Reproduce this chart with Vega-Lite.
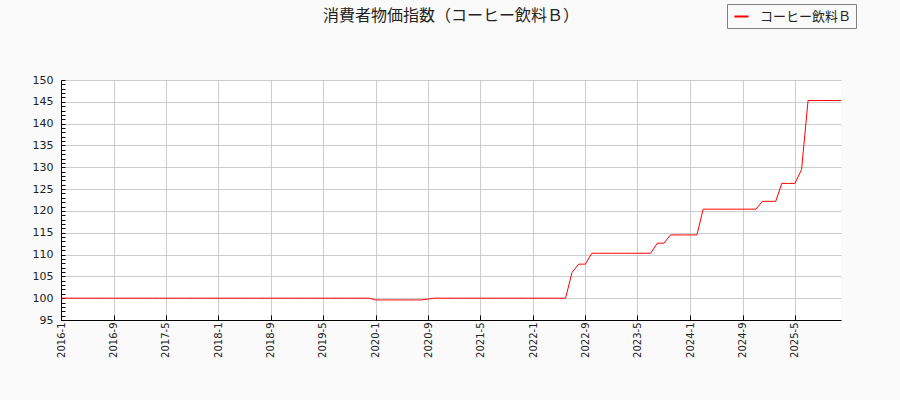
{
  "$schema": "https://vega.github.io/schema/vega-lite/v6.json",
  "width": 780,
  "height": 240,
  "autosize": "none",
  "padding": {"left": 61, "top": 80, "right": 59, "bottom": 80},
  "background": "#fafafa",
  "title": {
    "text": "消費者物価指数（コーヒー飲料Ｂ）",
    "anchor": "middle",
    "frame": "group",
    "font": "Noto Sans CJK JP",
    "fontSize": 16,
    "fontWeight": "normal",
    "color": "#222222",
    "offset": -20
  },
  "config": {
    "view": {"fill": "#ffffff", "stroke": null},
    "axis": {
      "domainColor": "#000000",
      "tickColor": "#000000",
      "gridColor": "#cccccc",
      "labelColor": "#222222",
      "labelFont": "DejaVu Sans",
      "title": null
    }
  },
  "data": {
    "values": [
      {"month": "2016-01-01", "value": 100.0}, {"month": "2016-02-01", "value": 100.0}, {"month": "2016-03-01", "value": 100.0},
      {"month": "2016-04-01", "value": 100.0}, {"month": "2016-05-01", "value": 100.0}, {"month": "2016-06-01", "value": 100.0},
      {"month": "2016-07-01", "value": 100.0}, {"month": "2016-08-01", "value": 100.0}, {"month": "2016-09-01", "value": 100.0},
      {"month": "2016-10-01", "value": 100.0}, {"month": "2016-11-01", "value": 100.0}, {"month": "2016-12-01", "value": 100.0},
      {"month": "2017-01-01", "value": 100.0}, {"month": "2017-02-01", "value": 100.0}, {"month": "2017-03-01", "value": 100.0},
      {"month": "2017-04-01", "value": 100.0}, {"month": "2017-05-01", "value": 100.0}, {"month": "2017-06-01", "value": 100.0},
      {"month": "2017-07-01", "value": 100.0}, {"month": "2017-08-01", "value": 100.0}, {"month": "2017-09-01", "value": 100.0},
      {"month": "2017-10-01", "value": 100.0}, {"month": "2017-11-01", "value": 100.0}, {"month": "2017-12-01", "value": 100.0},
      {"month": "2018-01-01", "value": 100.0}, {"month": "2018-02-01", "value": 100.0}, {"month": "2018-03-01", "value": 100.0},
      {"month": "2018-04-01", "value": 100.0}, {"month": "2018-05-01", "value": 100.0}, {"month": "2018-06-01", "value": 100.0},
      {"month": "2018-07-01", "value": 100.0}, {"month": "2018-08-01", "value": 100.0}, {"month": "2018-09-01", "value": 100.0},
      {"month": "2018-10-01", "value": 100.0}, {"month": "2018-11-01", "value": 100.0}, {"month": "2018-12-01", "value": 100.0},
      {"month": "2019-01-01", "value": 100.0}, {"month": "2019-02-01", "value": 100.0}, {"month": "2019-03-01", "value": 100.0},
      {"month": "2019-04-01", "value": 100.0}, {"month": "2019-05-01", "value": 100.0}, {"month": "2019-06-01", "value": 100.0},
      {"month": "2019-07-01", "value": 100.0}, {"month": "2019-08-01", "value": 100.0}, {"month": "2019-09-01", "value": 100.0},
      {"month": "2019-10-01", "value": 100.0}, {"month": "2019-11-01", "value": 100.0}, {"month": "2019-12-01", "value": 100.0},
      {"month": "2020-01-01", "value": 99.6}, {"month": "2020-02-01", "value": 99.6}, {"month": "2020-03-01", "value": 99.6},
      {"month": "2020-04-01", "value": 99.6}, {"month": "2020-05-01", "value": 99.6}, {"month": "2020-06-01", "value": 99.6},
      {"month": "2020-07-01", "value": 99.6}, {"month": "2020-08-01", "value": 99.6}, {"month": "2020-09-01", "value": 99.8},
      {"month": "2020-10-01", "value": 100.0}, {"month": "2020-11-01", "value": 100.0}, {"month": "2020-12-01", "value": 100.0},
      {"month": "2021-01-01", "value": 100.0}, {"month": "2021-02-01", "value": 100.0}, {"month": "2021-03-01", "value": 100.0},
      {"month": "2021-04-01", "value": 100.0}, {"month": "2021-05-01", "value": 100.0}, {"month": "2021-06-01", "value": 100.0},
      {"month": "2021-07-01", "value": 100.0}, {"month": "2021-08-01", "value": 100.0}, {"month": "2021-09-01", "value": 100.0},
      {"month": "2021-10-01", "value": 100.0}, {"month": "2021-11-01", "value": 100.0}, {"month": "2021-12-01", "value": 100.0},
      {"month": "2022-01-01", "value": 100.0}, {"month": "2022-02-01", "value": 100.0}, {"month": "2022-03-01", "value": 100.0},
      {"month": "2022-04-01", "value": 100.0}, {"month": "2022-05-01", "value": 100.0}, {"month": "2022-06-01", "value": 100.0},
      {"month": "2022-07-01", "value": 105.9}, {"month": "2022-08-01", "value": 107.8}, {"month": "2022-09-01", "value": 107.8},
      {"month": "2022-10-01", "value": 110.3}, {"month": "2022-11-01", "value": 110.3}, {"month": "2022-12-01", "value": 110.3},
      {"month": "2023-01-01", "value": 110.3}, {"month": "2023-02-01", "value": 110.3}, {"month": "2023-03-01", "value": 110.3},
      {"month": "2023-04-01", "value": 110.3}, {"month": "2023-05-01", "value": 110.3}, {"month": "2023-06-01", "value": 110.3},
      {"month": "2023-07-01", "value": 110.3}, {"month": "2023-08-01", "value": 112.6}, {"month": "2023-09-01", "value": 112.6},
      {"month": "2023-10-01", "value": 114.5}, {"month": "2023-11-01", "value": 114.5}, {"month": "2023-12-01", "value": 114.5},
      {"month": "2024-01-01", "value": 114.5}, {"month": "2024-02-01", "value": 114.5}, {"month": "2024-03-01", "value": 120.4},
      {"month": "2024-04-01", "value": 120.4}, {"month": "2024-05-01", "value": 120.4}, {"month": "2024-06-01", "value": 120.4},
      {"month": "2024-07-01", "value": 120.4}, {"month": "2024-08-01", "value": 120.4}, {"month": "2024-09-01", "value": 120.4},
      {"month": "2024-10-01", "value": 120.4}, {"month": "2024-11-01", "value": 120.4}, {"month": "2024-12-01", "value": 122.2},
      {"month": "2025-01-01", "value": 122.2}, {"month": "2025-02-01", "value": 122.2}, {"month": "2025-03-01", "value": 126.3},
      {"month": "2025-04-01", "value": 126.3}, {"month": "2025-05-01", "value": 126.3}, {"month": "2025-06-01", "value": 129.5},
      {"month": "2025-07-01", "value": 145.3}, {"month": "2025-08-01", "value": 145.3}, {"month": "2025-09-01", "value": 145.3},
      {"month": "2025-10-01", "value": 145.3}, {"month": "2025-11-01", "value": 145.3}, {"month": "2025-12-01", "value": 145.3}
    ],
    "format": {"parse": {"month": "date:'%Y-%m-%d'"}}
  },
  "transform": [{"calculate": "'コーヒー飲料Ｂ'", "as": "series"}],
  "mark": {"type": "line", "strokeWidth": 1, "interpolate": "linear"},
  "encoding": {
    "x": {
      "field": "month",
      "type": "temporal",
      "scale": {"nice": false},
      "axis": {
        "values": [
          {"year": 2016, "month": 1, "date": 1}, {"year": 2016, "month": 9, "date": 1},
          {"year": 2017, "month": 5, "date": 1}, {"year": 2018, "month": 1, "date": 1},
          {"year": 2018, "month": 9, "date": 1}, {"year": 2019, "month": 5, "date": 1},
          {"year": 2020, "month": 1, "date": 1}, {"year": 2020, "month": 9, "date": 1},
          {"year": 2021, "month": 5, "date": 1}, {"year": 2022, "month": 1, "date": 1},
          {"year": 2022, "month": 9, "date": 1}, {"year": 2023, "month": 5, "date": 1},
          {"year": 2024, "month": 1, "date": 1}, {"year": 2024, "month": 9, "date": 1},
          {"year": 2025, "month": 5, "date": 1}
        ],
        "format": "%Y-%-m",
        "labelAngle": 270,
        "labelFontSize": 10,
        "labelPadding": 7,
        "tickSize": -5,
        "labelOverlap": false,
        "grid": true
      }
    },
    "y": {
      "field": "value",
      "type": "quantitative",
      "scale": {"domain": [95, 150], "nice": false, "zero": false},
      "axis": {
        "values": [95, 96, 97, 98, 99, 100, 101, 102, 103, 104, 105, 106, 107, 108, 109, 110, 111, 112, 113, 114, 115, 116, 117, 118, 119, 120, 121, 122, 123, 124, 125, 126, 127, 128, 129, 130, 131, 132, 133, 134, 135, 136, 137, 138, 139, 140, 141, 142, 143, 144, 145, 146, 147, 148, 149, 150],
        "labelExpr": "datum.value % 5 === 0 ? datum.label : ''",
        "labelFontSize": 11,
        "labelPadding": 12,
        "labelOverlap": false,
        "tickSize": -4,
        "grid": true,
        "gridOpacity": {"condition": {"test": "datum.value % 5 === 0", "value": 1}, "value": 0}
      }
    },
    "color": {
      "field": "series",
      "type": "nominal",
      "scale": {"range": ["#ff0000"]},
      "legend": {
        "title": null,
        "orient": "none",
        "legendX": 666,
        "legendY": -76,
        "fillColor": "#fafafa",
        "strokeColor": "#808080",
        "padding": 4,
        "symbolType": "stroke",
        "symbolStrokeWidth": 2,
        "symbolSize": 200,
        "symbolOffset": 2,
        "labelOffset": 10,
        "labelFont": "Noto Sans CJK JP",
        "labelFontSize": 13,
        "labelColor": "#222222"
      }
    }
  }
}
